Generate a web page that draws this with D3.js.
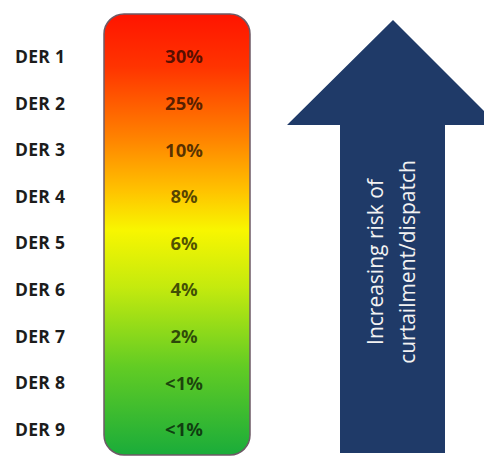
<!DOCTYPE html>
<html>
<head>
<meta charset="utf-8">
<script src="https://cdn.jsdelivr.net/npm/d3@7"></script>
<style>
  html, body { margin: 0; padding: 0; background: #fff; }
  svg { display: block; }
</style>
</head>
<body>
<svg id="chart" width="484" height="456"></svg>
<script>
// Distributed energy resources and their share of curtailment/dispatch
const categories = ["DER 1", "DER 2", "DER 3", "DER 4", "DER 5", "DER 6", "DER 7", "DER 8", "DER 9"];
const shareLabels = ["30%", "25%", "10%", "8%", "6%", "4%", "2%", "<1%", "<1%"];
const arrowText = ["Increasing risk of", "curtailment/dispatch"];

const svg = d3.select("#chart");
const font = "'Open Sans', 'Liberation Sans', sans-serif";

// Row positions
const y = d3.scaleBand().domain(categories).range([33.5, 453]).padding(0);

// Gradient bar: red (high risk) to green (low risk)
const defs = svg.append("defs");
const grad = defs.append("linearGradient")
  .attr("id", "riskGrad").attr("x1", 0).attr("y1", 0).attr("x2", 0).attr("y2", 1);
[
  [0.00, "#ff1400"],
  [0.12, "#ff3400"],
  [0.28, "#ff8200"],
  [0.40, "#ffc200"],
  [0.49, "#f8f600"],
  [0.62, "#c4ea0e"],
  [0.80, "#62cc24"],
  [1.00, "#1aac3a"]
].forEach(([o, c]) => grad.append("stop").attr("offset", o).attr("stop-color", c));

const barX0 = 104, barX1 = 250, barY0 = 14, barY1 = 455;
svg.append("rect")
  .attr("x", barX0).attr("y", barY0)
  .attr("width", barX1 - barX0).attr("height", barY1 - barY0)
  .attr("rx", 20).attr("ry", 20)
  .attr("fill", "url(#riskGrad)")
  .attr("stroke", "#6e5a66").attr("stroke-width", 1.5);

// Row labels
svg.append("g").selectAll("text").data(categories).join("text")
  .attr("x", 15)
  .attr("y", d => y(d) + y.bandwidth() / 2)
  .attr("dy", "0.35em")
  .attr("font-family", font).attr("font-weight", 700).attr("font-size", 17.5)
  .attr("letter-spacing", 0.3)
  .attr("fill", "#1c1c1c")
  .text(d => d);

// Share values inside the bar
svg.append("g").selectAll("text").data(categories).join("text")
  .attr("x", 184)
  .attr("y", d => y(d) + y.bandwidth() / 2)
  .attr("dy", "0.35em")
  .attr("text-anchor", "middle")
  .attr("font-family", font).attr("font-weight", 700).attr("font-size", 18.5)
  .attr("fill", "#000").attr("fill-opacity", 0.66)
  .text((d, i) => shareLabels[i]);

// Upward arrow
const arrowPath = d3.path();
arrowPath.moveTo(393, 20);
arrowPath.lineTo(498, 125);
arrowPath.lineTo(445, 125);
arrowPath.lineTo(445, 453);
arrowPath.lineTo(340, 453);
arrowPath.lineTo(340, 125);
arrowPath.lineTo(287, 125);
arrowPath.closePath();
svg.append("path").attr("d", arrowPath.toString()).attr("fill", "#1f3a68");

// Arrow caption, rotated, both lines centred
const cap = svg.append("text")
  .attr("transform", "translate(383,262) rotate(-90)")
  .attr("text-anchor", "middle")
  .attr("font-family", font).attr("font-size", 21)
  .attr("fill", "#f2f2f2");
arrowText.forEach((t, i) => {
  cap.append("tspan").attr("x", 0).attr("y", i * 32).text(t);
});
</script>
</body>
</html>
